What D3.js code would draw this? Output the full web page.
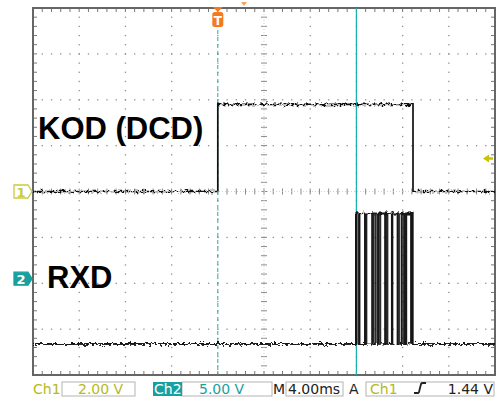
<!DOCTYPE html>
<html>
<head>
<meta charset="utf-8">
<script src="https://cdn.jsdelivr.net/npm/d3@7/dist/d3.min.js"></script>
<style>
  html, body { margin: 0; padding: 0; background: #fff; }
  svg { display: block; }
</style>
</head>
<body>
<svg id="scope" width="503" height="400"></svg>
<script>
// Acquisition settings (4 ms/div, 10 horizontal x 8 vertical divisions)
const timeDomain = [-16, 24];          // ms, trigger at 0
const ch1VoltsPerDiv = 2;
const ch2VoltsPerDiv = 5;
const ch1OffsetDiv = 0;
const ch2OffsetDiv = -1.9;
const triggerLevel = 1.44;             // V on Ch1
const cursorTime = 12;                 // ms

// Ch1: carrier detect (DCD) line
const dcdTimes = [-16, 0, 16.9];
const dcdVolts = [0, 3.8, 0];

// Ch2: RXD data, RS-232 levels, overlaid acquisitions (edge times, ms)
const rxdIdle = -7.1;
const rxdActive = 7.1;
const rxdSweepA = [11.95, 12.75, 13.40, 13.90, 14.50, 15.08, 15.55, 16.15, 16.72, 16.86];
const rxdSweepB = [11.96, 12.25, 12.88, 13.65, 14.08, 14.70, 15.13, 15.90, 16.33, 16.88];
const rxdSweepC = [11.97, 12.15, 12.80, 13.50, 13.95, 14.60, 15.10, 15.70, 16.25, 16.80];
const rxdSweepD = [11.98, 12.28, 12.73, 13.35, 13.80, 14.48, 15.06, 15.60, 15.95, 16.12, 16.30, 16.76];

// Readout texts
const ch1Scale = "2.00 V";
const ch2Scale = "5.00 V";
const timeBase = "4.00ms";
const trigLevelText = "1.44 V";
const traceLabels = ["KOD (DCD)", "RXD"];

const svg = d3.select("#scope");
const frame = { left: 33, right: 495, top: 8, bottom: 375 };
const nDivX = 10, nDivY = 8;
const divW = (frame.right - frame.left) / nDivX;
const divH = (frame.bottom - frame.top) / nDivY;

const x = d3.scaleLinear().domain(timeDomain).range([frame.left, frame.right]);
const yDiv = d3.scaleLinear().domain([-4, 4]).range([frame.bottom, frame.top]);
const y1 = v => yDiv(v / ch1VoltsPerDiv + ch1OffsetDiv);
const y2 = v => yDiv(v / ch2VoltsPerDiv + ch2OffsetDiv);

const CH1 = "#b8b81e", CH2 = "#17a0a0", ORANGE = "#f47a20", CURSOR = "#1bb0b0";

// noise filter: vertical jitter only
const defs = svg.append("defs");
const f = defs.append("filter").attr("id", "jitter")
  .attr("filterUnits", "userSpaceOnUse")
  .attr("x", 0).attr("y", 0).attr("width", 503).attr("height", 400)
  .attr("color-interpolation-filters", "sRGB");
f.append("feTurbulence").attr("type", "fractalNoise")
  .attr("baseFrequency", "0.35 0.35").attr("numOctaves", 2).attr("seed", 3).attr("result", "n");
f.append("feColorMatrix").attr("in", "n").attr("type", "matrix")
  .attr("values", "0 0 0 0 0.5  0 1 0 0 0  0 0 1 0 0  0 0 0 0 1").attr("result", "m");
f.append("feDisplacementMap").attr("in", "SourceGraphic").attr("in2", "m")
  .attr("scale", 6).attr("xChannelSelector", "R").attr("yChannelSelector", "G");

// ---- graticule ----
const grid = svg.append("g");
const minor = d3.range(0, nDivX * 5 + 1);
const minorY = d3.range(0, nDivY * 5 + 1);
// dotted division lines
d3.range(1, nDivX).filter(i => i !== 5).forEach(i => {
  grid.selectAll(null).data(minorY.slice(1, -1)).enter().append("rect")
    .attr("x", frame.left + i * divW - 0.6).attr("y", k => frame.top + k * divH / 5 - 0.6)
    .attr("width", 1.3).attr("height", 1.3).attr("fill", "#8f8f8f");
});
d3.range(1, nDivY).filter(j => j !== 4).forEach(j => {
  grid.selectAll(null).data(minor.slice(1, -1)).enter().append("rect")
    .attr("x", k => frame.left + k * divW / 5 - 0.6).attr("y", frame.top + j * divH - 0.6)
    .attr("width", 1.3).attr("height", 1.3).attr("fill", "#8f8f8f");
});
// centre cross with minor ticks
const cx = frame.left + 5 * divW, cy = frame.top + 4 * divH;
grid.selectAll(null).data(minorY.slice(1, -1)).enter().append("line")
  .attr("x1", cx - 3).attr("x2", cx + 3)
  .attr("y1", k => frame.top + k * divH / 5).attr("y2", k => frame.top + k * divH / 5)
  .attr("stroke", "#8a8a8a").attr("stroke-width", 1);
grid.selectAll(null).data(minor.slice(1, -1)).enter().append("line")
  .attr("y1", cy - 3).attr("y2", cy + 3)
  .attr("x1", k => frame.left + k * divW / 5).attr("x2", k => frame.left + k * divW / 5)
  .attr("stroke", "#8a8a8a").attr("stroke-width", 1);
grid.append("line").attr("x1", cx).attr("x2", cx).attr("y1", frame.top).attr("y2", frame.bottom)
  .attr("stroke", "#c8c8c8").attr("stroke-width", 0.8).attr("stroke-dasharray", "1 2");
grid.append("line").attr("x1", frame.left).attr("x2", frame.right).attr("y1", cy).attr("y2", cy)
  .attr("stroke", "#c8c8c8").attr("stroke-width", 0.8).attr("stroke-dasharray", "1 2");
// frame edge ticks
[[frame.top, 1], [frame.bottom, -1]].forEach(([yy, s]) => {
  grid.selectAll(null).data(minor.slice(1, -1)).enter().append("line")
    .attr("x1", k => frame.left + k * divW / 5).attr("x2", k => frame.left + k * divW / 5)
    .attr("y1", yy).attr("y2", yy + s * 4).attr("stroke", "#777").attr("stroke-width", 1);
});
[[frame.left, 1], [frame.right, -1]].forEach(([xx, s]) => {
  grid.selectAll(null).data(minorY.slice(1, -1)).enter().append("line")
    .attr("y1", k => frame.top + k * divH / 5).attr("y2", k => frame.top + k * divH / 5)
    .attr("x1", xx).attr("x2", xx + s * 4).attr("stroke", "#777").attr("stroke-width", 1);
});
grid.append("rect").attr("x", frame.left).attr("y", frame.top)
  .attr("width", frame.right - frame.left).attr("height", frame.bottom - frame.top)
  .attr("fill", "none").attr("stroke", "#666").attr("stroke-width", 2);

// ---- cursors ----
svg.append("line").attr("x1", x(0)).attr("x2", x(0)).attr("y1", 30).attr("y2", frame.bottom)
  .attr("stroke", CURSOR).attr("stroke-width", 1).attr("stroke-dasharray", "4 3");
svg.append("line").attr("x1", x(cursorTime)).attr("x2", x(cursorTime)).attr("y1", frame.top).attr("y2", frame.bottom)
  .attr("stroke", CURSOR).attr("stroke-width", 1.2);

// ---- traces ----
const step = d3.line().x(d => x(d[0])).y(d => d[1]).curve(d3.curveStepAfter);
const dcdPts = dcdTimes.map((t, i) => [t, y1(dcdVolts[i])]).concat([[timeDomain[1], y1(dcdVolts[dcdVolts.length - 1])]]);
const traces = svg.append("g").attr("filter", "url(#jitter)");
traces.append("path").attr("d", step(dcdPts))
  .attr("fill", "none").attr("stroke", "#111").attr("stroke-width", 1.7);

function sweepPoints(edges) {
  const pts = [[timeDomain[0], y2(rxdIdle)]];
  edges.forEach((t, i) => pts.push([t, y2(i % 2 === 0 ? rxdActive : rxdIdle)]));
  pts.push([timeDomain[1], y2(rxdIdle)]);
  return pts;
}
[rxdSweepA, rxdSweepB, rxdSweepC, rxdSweepD].forEach(s => {
  traces.append("path").attr("d", step(sweepPoints(s)))
    .attr("fill", "none").attr("stroke", "#151515").attr("stroke-width", 1.6).attr("stroke-opacity", 0.9);
});

// ---- trace labels ----
svg.append("text").attr("x", 38).attr("y", 139).text(traceLabels[0])
  .attr("font-family", "Liberation Sans, Arial, sans-serif").attr("font-weight", "bold").attr("font-size", 31).attr("fill", "#000");
svg.append("text").attr("x", 47).attr("y", 288).text(traceLabels[1])
  .attr("font-family", "Liberation Sans, Arial, sans-serif").attr("font-weight", "bold").attr("font-size", 31).attr("fill", "#000");

// ---- channel ground markers ----
function marker(yc, filled, color, label) {
  const g = svg.append("g");
  const p = `M14,${yc - 6.5} L28,${yc - 6.5} L32,${yc} L28,${yc + 6.5} L14,${yc + 6.5} Z`;
  g.append("path").attr("d", p)
    .attr("fill", filled ? color : "#fff").attr("stroke", color).attr("stroke-width", 1.3);
  g.append("text").attr("x", 21).attr("y", yc + 5).attr("text-anchor", "middle").text(label)
    .attr("font-family", "DejaVu Sans, sans-serif").attr("font-size", 13).attr("font-weight", "bold")
    .attr("fill", filled ? "#fff" : color);
}
marker(y1(0), false, "#c8cc40", "1");
marker(y2(0), true, CH2, "2");

// trigger position marker
const tx = x(0);
svg.append("path").attr("d", `M${tx - 5},7 L${tx + 5},7 L${tx},12 Z`).attr("fill", ORANGE);
svg.append("rect").attr("x", tx - 5.5).attr("y", 12).attr("width", 11).attr("height", 15).attr("rx", 2.5).attr("fill", ORANGE);
svg.append("text").attr("x", tx).attr("y", 25).attr("text-anchor", "middle").text("T")
  .attr("font-family", "DejaVu Sans, sans-serif").attr("font-weight", "bold").attr("font-size", 12).attr("fill", "#fff");
svg.append("path").attr("d", "M241,2 L247,2 L244,6 Z").attr("fill", ORANGE).attr("opacity", 0.7);

// trigger level arrow
const ty = y1(triggerLevel);
svg.append("path").attr("d", `M483,${ty} L489,${ty - 4} L489,${ty - 1.3} L493,${ty - 1.3} L493,${ty + 1.3} L489,${ty + 1.3} L489,${ty + 4} Z`)
  .attr("fill", "#c8c400");

// ---- readout bar ----
const rb = svg.append("g").attr("font-family", "DejaVu Sans, sans-serif").attr("font-size", 14);
const boxY = 382, boxH = 14, base = 394;
[[62, 135], [182, 272], [286, 343], [366, 494]].forEach(([a, b]) => {
  rb.append("rect").attr("x", a).attr("y", boxY).attr("width", b - a).attr("height", boxH)
    .attr("fill", "#fff").attr("stroke", "#b4b4b4").attr("stroke-width", 1);
});
rb.append("text").attr("x", 33).attr("y", base).text("Ch1").attr("fill", CH1);
rb.append("text").attr("x", 78).attr("y", base).text(ch1Scale).attr("fill", CH1);
rb.append("rect").attr("x", 153).attr("y", boxY).attr("width", 29).attr("height", boxH).attr("fill", CH2);
rb.append("text").attr("x", 154).attr("y", base).text("Ch2").attr("fill", "#fff");
rb.append("text").attr("x", 199).attr("y", base).text(ch2Scale).attr("fill", CH2);
rb.append("text").attr("x", 273).attr("y", base).text("M").attr("fill", "#222");
rb.append("text").attr("x", 288).attr("y", base).text(timeBase).attr("fill", "#222");
rb.append("text").attr("x", 349).attr("y", base).text("A").attr("fill", "#222");
rb.append("text").attr("x", 370).attr("y", base).text("Ch1").attr("fill", CH1);
rb.append("path").attr("d", "M414,393 L418,393 Q419,393 419.5,390 L421,384 Q421.5,383 423,383 L426,383")
  .attr("fill", "none").attr("stroke", "#222").attr("stroke-width", 1.8);
rb.append("text").attr("x", 493).attr("y", base).attr("text-anchor", "end").text(trigLevelText).attr("fill", "#222");
</script>
</body>
</html>
